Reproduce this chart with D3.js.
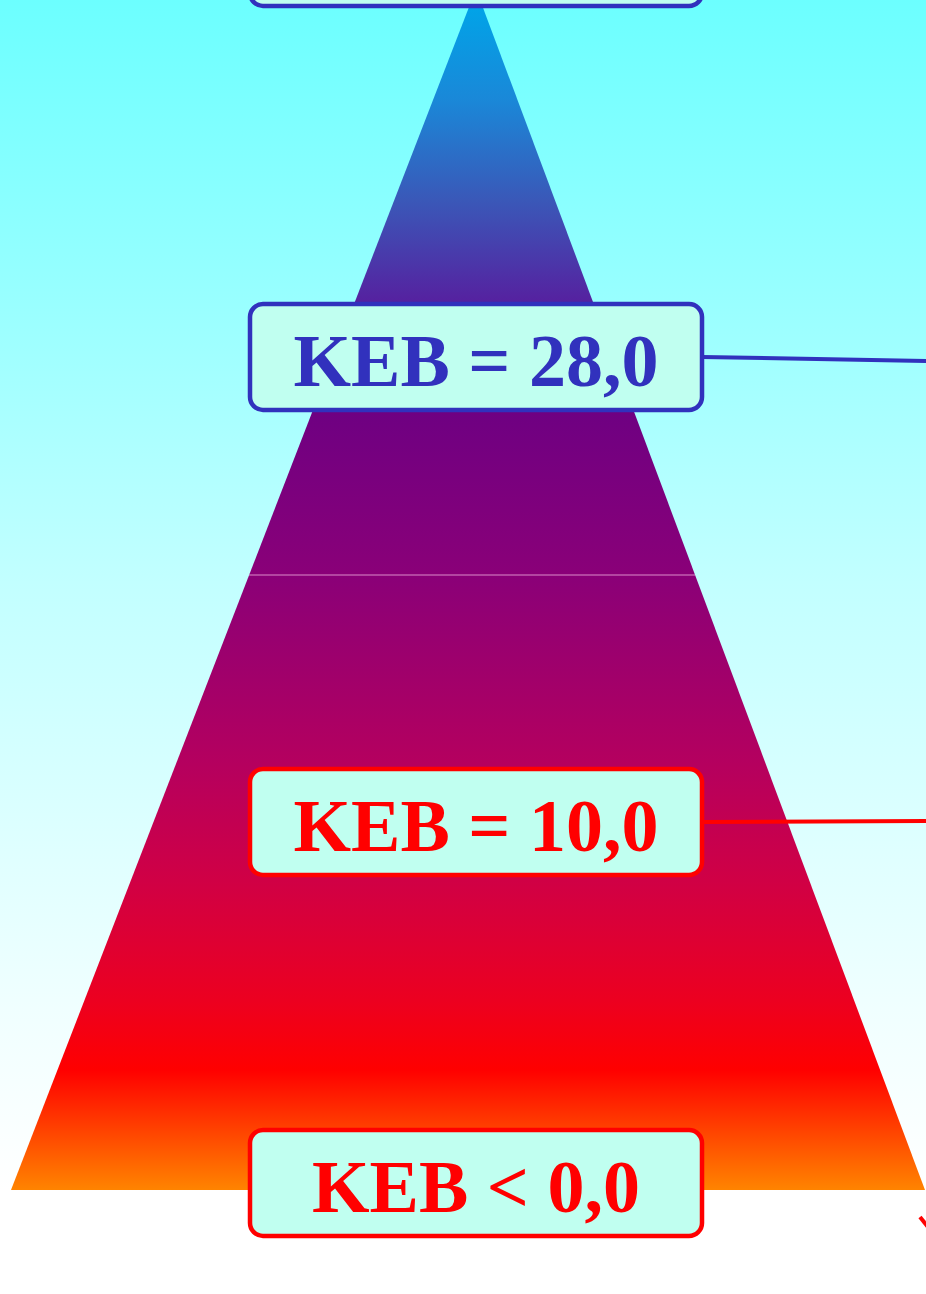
<!DOCTYPE html>
<html><head><meta charset="utf-8">
<script src="https://cdn.jsdelivr.net/npm/d3@7"></script>
<style>html,body{margin:0;padding:0;background:#fff;}svg{display:block;}</style>
</head><body>
<script>
// ---- data ----
const levelLabels = ["", "KEB = 28,0", "KEB = 10,0", "KEB < 0,0"];
const levelValues = [40, 28, 10, -5];
const levelColors = ["#3131bd", "#3131bd", "#ff0000", "#ff0000"];
const splitValue = 19; // boundary between upper and lower part of pyramid
const triStops = [
  {o: 0.013, c: "#00a4e8"}, {o: 0.092, c: "#1a88d8"}, {o: 0.176, c: "#3a58b8"},
  {o: 0.259, c: "#5522a0"}, {o: 0.35, c: "#6e0082"}, {o: 0.488, c: "#8a0078"},
  {o: 0.642, c: "#b4005f"}, {o: 0.742, c: "#d00045"}, {o: 0.842, c: "#ec0020"},
  {o: 0.9, c: "#ff0000"}, {o: 1, c: "#ff8400"}
];

const W = 926, H = 1294;
const svg = d3.select("body").append("svg").attr("width", W).attr("height", H);
const defs = svg.append("defs");

// scales
const y = d3.scaleLinear().domain([40, 28, 19, 10, -5]).range([-47, 357, 575, 822, 1183]);
const yTri = d3.scaleLinear().domain([0, 1]).range([-11, 1190]); // apex -> base
const xL = d3.scaleLinear().domain([0, 1]).range([476, 11]);
const xR = d3.scaleLinear().domain([0, 1]).range([476, 925]);

// background gradient
const bg = defs.append("linearGradient").attr("id", "bg").attr("x1", 0).attr("y1", 0).attr("x2", 0).attr("y2", 1);
bg.append("stop").attr("offset", 0).attr("stop-color", "#6cffff");
bg.append("stop").attr("offset", 0.45).attr("stop-color", "#c2ffff");
bg.append("stop").attr("offset", 0.78).attr("stop-color", "#f0ffff");
bg.append("stop").attr("offset", 0.92).attr("stop-color", "#ffffff");
bg.append("stop").attr("offset", 1).attr("stop-color", "#ffffff");
svg.append("rect").attr("width", W).attr("height", H).attr("fill", "url(#bg)");

// triangle gradient
const tg = defs.append("linearGradient").attr("id", "tri").attr("gradientUnits", "userSpaceOnUse")
  .attr("x1", 0).attr("y1", yTri(0)).attr("x2", 0).attr("y2", yTri(1));
tg.selectAll("stop").data(triStops).join("stop").attr("offset", d => d.o).attr("stop-color", d => d.c);

const tri = [[xL(0), yTri(0)], [xR(1), yTri(1)], [xL(1), yTri(1)]];
svg.append("path").attr("d", d3.line()(tri) + "Z").attr("fill", "url(#tri)");

// divider
const ySplit = y(splitValue);
const tSplit = yTri.invert(ySplit);
svg.append("line").attr("x1", xL(tSplit)).attr("x2", xR(tSplit)).attr("y1", ySplit).attr("y2", ySplit)
  .attr("stroke", "#ffc8ee").attr("stroke-opacity", 0.7).attr("stroke-width", 1);

// connectors
const boxL = 250, boxR = 702, boxH = 106;
const connEnd = [357, 361, 821, 1183];
levelValues.forEach((v, i) => {
  if (i === 1 || i === 2) {
    svg.append("line").attr("x1", boxR).attr("y1", y(v)).attr("x2", W + 2).attr("y2", connEnd[i])
      .attr("stroke", levelColors[i]).attr("stroke-width", 4);
  }
});
// small red fragment at bottom right
svg.append("line").attr("x1", 920).attr("y1", 1217).attr("x2", 932).attr("y2", 1232)
  .attr("stroke", "#ff0000").attr("stroke-width", 4);

// boxes
const g = svg.selectAll("g.lvl").data(levelLabels.map((l, i) => ({l, v: levelValues[i], c: levelColors[i]})))
  .join("g").attr("class", "lvl");
g.append("rect").attr("x", boxL).attr("y", d => y(d.v) - boxH / 2).attr("width", boxR - boxL).attr("height", boxH)
  .attr("rx", 13).attr("fill", "#c0fff0").attr("stroke", d => d.c).attr("stroke-width", 4.5);
g.filter(d => d.l).append("text").attr("x", (boxL + boxR) / 2).attr("y", d => y(d.v) + 29)
  .attr("text-anchor", "middle").attr("font-family", "'Liberation Serif','Times New Roman',serif")
  .attr("font-weight", "bold").attr("font-size", 74).attr("fill", d => d.c).text(d => d.l);
</script>
</body></html>
